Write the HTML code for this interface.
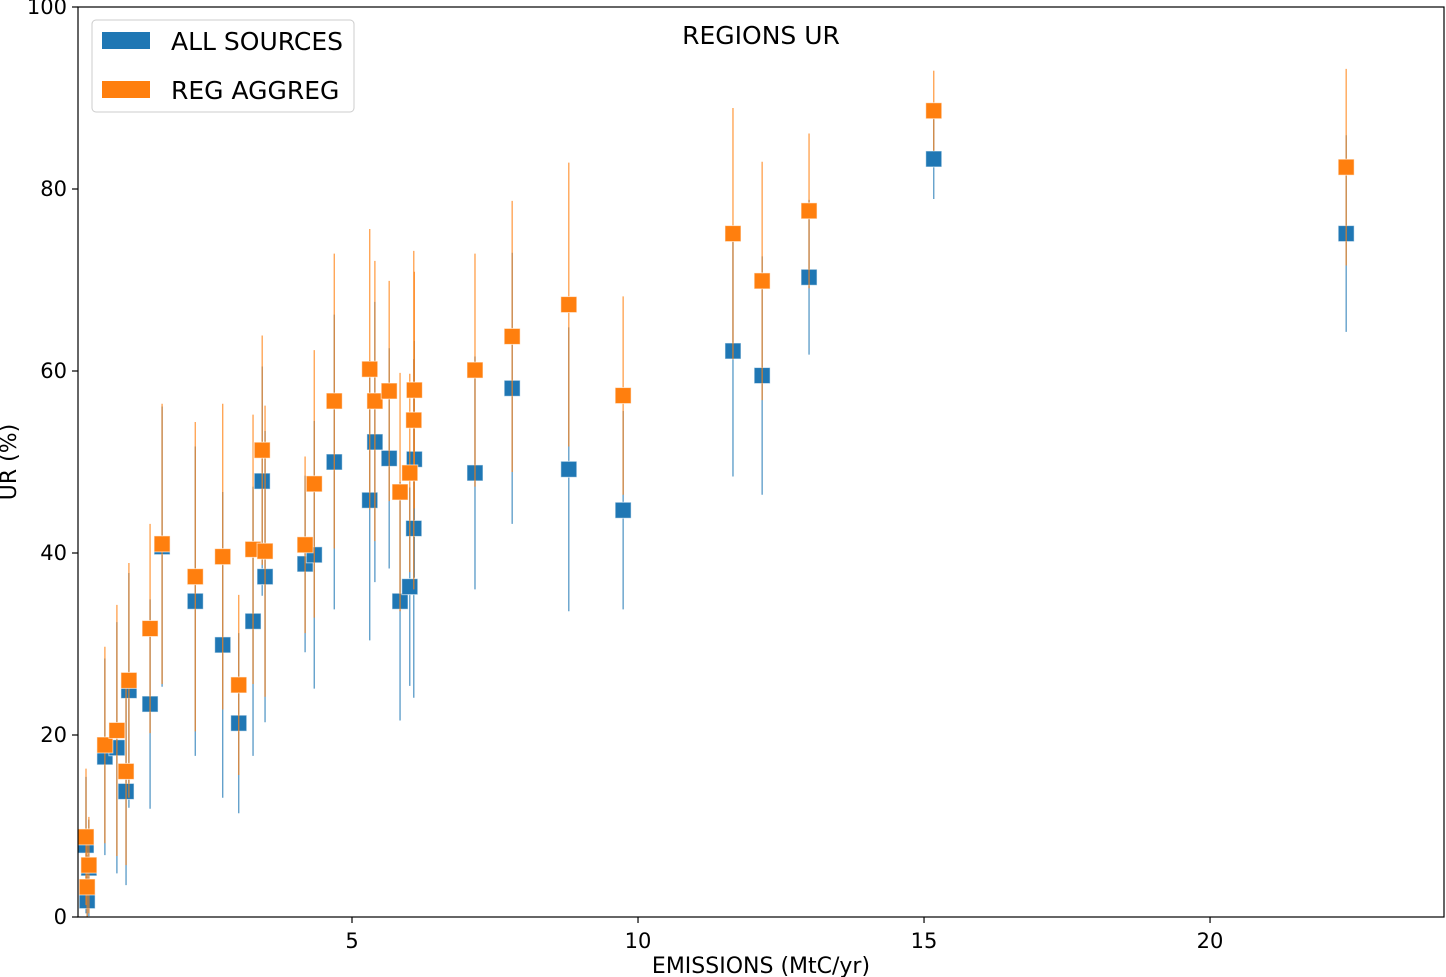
<!DOCTYPE html>
<html><head><meta charset="utf-8"><style>
html,body{margin:0;padding:0;background:#fff;}
svg{display:block;font-family:"DejaVu Sans","Liberation Sans",sans-serif;}
</style></head><body>
<svg id="chart" width="1446" height="977" viewBox="0 0 1446 977" xmlns="http://www.w3.org/2000/svg">
<g id="marks"></g>
<rect x="78" y="7" width="1366" height="910" fill="none" stroke="#000" stroke-width="1.2"/>
<g id="axes"></g>
<text x="761" y="44" font-size="25" text-anchor="middle">REGIONS UR</text>
<text x="761" y="973" font-size="22" text-anchor="middle">EMISSIONS (MtC/yr)</text>
<text transform="translate(16,462) rotate(-90)" font-size="22" text-anchor="middle">UR (%)</text>
<g>
<rect x="92" y="20" width="262" height="92" rx="4" fill="#fff" fill-opacity="0.8" stroke="#ccc"/>
<rect x="102" y="32" width="48" height="17" fill="#1f77b4"/>
<text x="171" y="50" font-size="25">ALL SOURCES</text>
<rect x="102" y="81" width="48" height="17" fill="#ff7f0e"/>
<text x="171" y="99" font-size="25">REG AGGREG</text>
</g>
</svg>
<script>
const emissions=[0.35,0.37,0.40,0.68,0.89,1.05,1.10,1.47,1.68,2.26,2.74,3.02,3.27,3.43,3.48,4.18,4.34,4.69,5.31,5.40,5.65,5.84,6.01,6.08,6.09,7.15,7.80,8.79,9.74,11.66,12.17,12.99,15.17,22.38];
const allSources=[7.9,1.8,5.4,17.6,18.6,13.8,24.9,23.4,40.7,34.7,29.9,21.3,32.5,47.9,37.4,38.8,39.8,50.0,45.8,52.2,50.4,34.7,36.3,42.7,50.3,48.8,58.1,49.2,44.7,62.2,59.5,70.3,83.3,75.1];
const regAggreg=[8.8,3.3,5.7,18.9,20.5,16.0,26.0,31.7,41.0,37.4,39.6,25.5,40.4,51.3,40.2,40.9,47.6,56.7,60.2,56.7,57.8,46.7,48.8,54.6,57.9,60.1,63.8,67.3,57.3,75.1,69.9,77.6,88.6,82.4];
const errAll=[7.5,5,5.3,10.8,13.8,10.3,12.9,11.5,15.4,17,16.8,9.9,14.8,12.6,16,9.7,14.7,16.2,15.4,15.4,12.1,13.1,10.9,18.6,13,12.8,14.9,15.6,10.9,13.8,13.1,8.5,4.4,10.8];
const errReg=[7.5,5,5.3,10.8,13.8,10.3,12.9,11.5,15.4,17,16.8,9.9,14.8,12.6,16,9.7,14.7,16.2,15.4,15.4,12.1,13.1,10.9,18.6,13,12.8,14.9,15.6,10.9,13.8,13.1,8.5,4.4,10.8];
const xTicks=[5,10,15,20];
const yTicks=[0,20,40,60,80,100];
const NS="http://www.w3.org/2000/svg";
const X0=78,X1=1444,Y0=917,Y1=7,XMIN=0.21,XMAX=24.09,YMIN=0,YMAX=100;
function sx(v){return X0+(v-XMIN)/(XMAX-XMIN)*(X1-X0);}
function sy(v){return Y0-(v-YMIN)/(YMAX-YMIN)*(Y0-Y1);}
function mk(tag,attrs,parent){const e=document.createElementNS(NS,tag);for(const k in attrs)e.setAttribute(k,attrs[k]);parent.appendChild(e);return e;}
const marks=document.getElementById('marks');
const axes=document.getElementById('axes');
const clip=mk('clipPath',{id:'pc'},marks);
mk('rect',{x:X0,y:Y1,width:X1-X0,height:Y0-Y1},clip);
const g=mk('g',{'clip-path':'url(#pc)'},marks);
function series(vals,errs,color,name){
  for(let i=0;i<emissions.length;i++){
    const x=sx(emissions[i]);
    const l=mk('line',{x1:x,x2:x,y1:sy(vals[i]-errs[i]),y2:sy(vals[i]+errs[i]),stroke:color,'stroke-width':1.3,'stroke-opacity':0.75},g);
    
    
  }
  for(let i=0;i<emissions.length;i++){
    const x=sx(emissions[i]),y=sy(vals[i]);
    const r=mk('rect',{x:x-8,y:y-8,width:16,height:16,fill:color,stroke:'#fff','stroke-opacity':0.6,'stroke-width':1},g);
    
    
  }
}
series(allSources,errAll,'#1f77b4','all-sources');
series(regAggreg,errReg,'#ff7f0e','reg-aggreg');
xTicks.forEach(t=>{
  const x=sx(t);
  const l=mk('line',{x1:x,x2:x,y1:Y0,y2:Y0+6,stroke:'#000','stroke-width':1.2},axes);
  
  
  const tx=mk('text',{x:x,y:Y0+31,'font-size':21,'text-anchor':'middle'},axes);
  tx.textContent=t;
  
  
});
yTicks.forEach(t=>{
  const y=sy(t);
  const l=mk('line',{x1:X0-6,x2:X0,y1:y,y2:y,stroke:'#000','stroke-width':1.2},axes);
  
  
  const tx=mk('text',{x:X0-11,y:y+7,'font-size':21,'text-anchor':'end'},axes);
  tx.textContent=t;
  
  
});
</script>
</body></html>
